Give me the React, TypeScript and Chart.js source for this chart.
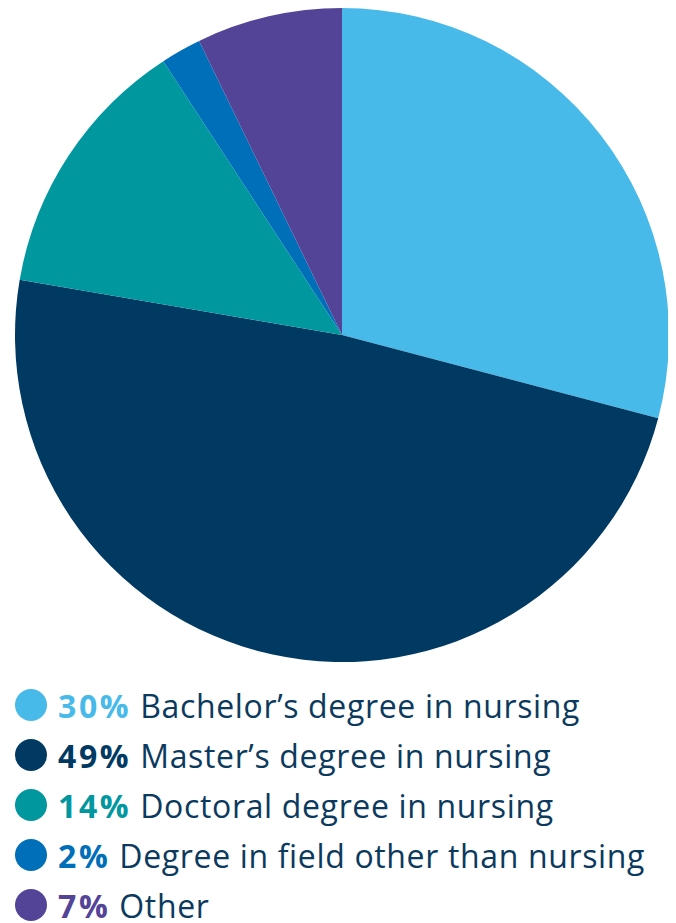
import React, { useEffect, useRef } from "react";
import { Chart, registerables } from "chart.js";

Chart.register(...registerables);

const categories = [
  "Bachelor’s degree in nursing",
  "Master’s degree in nursing",
  "Doctoral degree in nursing",
  "Degree in field other than nursing",
  "Other",
];
// slice sizes as drawn in the picture (share of circle, %)
const sliceValues = [29.1, 48.6, 13.1, 2.0, 7.2];
// percentages printed in the legend
const labelPercents = ["30%", "49%", "14%", "2%", "7%"];
const colors = ["#48baea", "#003a63", "#00979f", "#006fb9", "#544498"];
const textColor = "#0b3a5e";

export default function App() {
  const ref = useRef<HTMLCanvasElement | null>(null);
  useEffect(() => {
    if (!ref.current) return;
    const chart = new Chart(ref.current, {
      type: "pie",
      data: {
        labels: categories,
        datasets: [
          {
            data: sliceValues,
            backgroundColor: colors,
            borderWidth: 0,
            hoverOffset: 0,
          },
        ],
      },
      options: {
        animation: false,
        responsive: true,
        maintainAspectRatio: false,
        layout: { padding: 0 },
        plugins: {
          legend: { display: false },
          tooltip: { enabled: false },
        },
      },
    });
    return () => chart.destroy();
  }, []);

  return (
    <div style={{ fontFamily: "'Open Sans', sans-serif" }}>
      <div style={{ position: "relative", width: 654, height: 654, marginLeft: 7 }}>
        <canvas ref={ref} />
      </div>
      <div style={{ marginTop: 18 }}>
        {categories.map((c, i) => (
          <div
            key={c}
            style={{
              display: "flex",
              alignItems: "center",
              height: 50,
              whiteSpace: "nowrap",
            }}
          >
            <span
              style={{
                display: "inline-block",
                width: 32,
                height: 32,
                borderRadius: "50%",
                background: colors[i],
                marginLeft: 7,
                marginRight: 11,
                flex: "0 0 auto",
              }}
            />
            <span style={{ fontSize: 32, color: textColor, letterSpacing: 0.65 }}>
              <b style={{ color: colors[i], fontWeight: 700, letterSpacing: 2.6 }}>{labelPercents[i]}</b> {c}
            </span>
          </div>
        ))}
      </div>
    </div>
  );
}
